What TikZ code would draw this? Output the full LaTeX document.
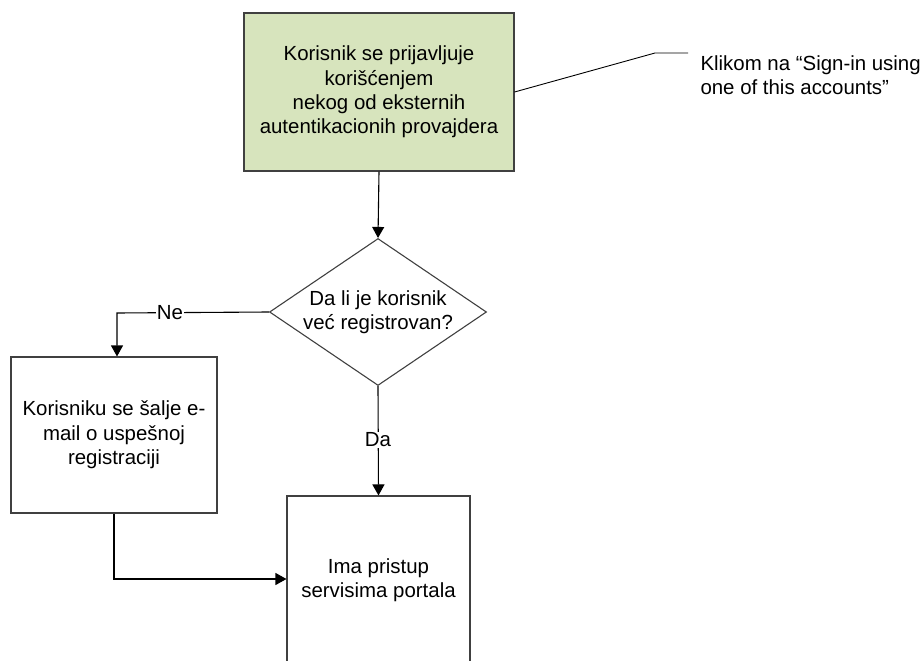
\documentclass[tikz,border=0pt]{standalone}
\usepackage{fontspec}
\setmainfont{Liberation Sans}
\usetikzlibrary{arrows.meta,shapes.geometric}
\definecolor{linegray}{HTML}{404040}
\definecolor{boxgreen}{HTML}{D7E4BD}
\tikzset{
  txt/.style={font=\fontsize{20.5}{24.5}\selectfont, align=center, text=black},
  procbox/.style={txt, draw=linegray, line width=1.1bp, inner sep=0pt},
  decbox/.style={txt, draw=linegray, line width=1.1bp, diamond, inner sep=0pt},
  flow/.style={draw=black, line width=1.1bp, -{Triangle[length=11bp,width=12bp]}},
  plain/.style={draw=black, line width=1.1bp},
  lbl/.style={txt, fill=white, inner sep=1bp}
}
\begin{document}
\begin{tikzpicture}[x=1bp,y=-1bp]
\useasboundingbox (0,0) rectangle (923,661);
\node[procbox, fill=boxgreen, minimum width=270bp, minimum height=158bp] (start) at (379,92)
  {Korisnik se prijavljuje\\korišćenjem\\nekog od eksternih\\autentikacionih provajdera};
\node[decbox, minimum width=217bp, minimum height=147bp] (dec) at (378,312)
  {\phantom{x}};
\node[txt] at (378,312) {Da li je korisnik\\već registrovan?};
\node[procbox, minimum width=206bp, minimum height=156bp] (mail) at (114,435)
  {Korisniku se šalje e-\\mail o uspešnoj\\registraciji};
\node[procbox, minimum width=183bp, minimum height=168bp] (end) at (378.5,580)
  {Ima pristup\\servisima portala};
\node[txt, align=left, anchor=west] (note) at (697,75)
  {Klikom na “Sign-in using\\one of this accounts”};
\coordinate (n1) at (655,53);
\coordinate (n2) at (688,53);
\coordinate (nb) at (start.east |- 0,92);
\draw[plain, line width=0.9bp] (nb) -- (n1) -- (n2);
\draw[flow] (start.south) -- (dec.north);
\coordinate (ne) at (117,313);
\draw[flow] (dec.west) -- (ne) -- (mail.north -| ne);
\node[lbl] at (170,313) {Ne};
\draw[flow] (dec.south) -- (end.north);
\node[lbl] at (378,440) {Da};
\coordinate (c1) at (mail.south |- 0,579);
\draw[flow] (mail.south) -- (c1) -- (end.west |- c1);
\end{tikzpicture}
\end{document}
